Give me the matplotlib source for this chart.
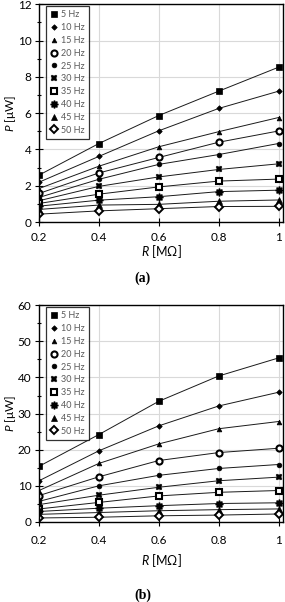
import matplotlib
matplotlib.use("Agg")
import matplotlib.pyplot as plt
from matplotlib.ticker import MultipleLocator

plt.rcParams['font.family'] = ['Lato', 'DejaVu Sans']
plt.rcParams['mathtext.fontset'] = 'custom'
plt.rcParams['mathtext.it'] = 'Lato:italic'
plt.rcParams['mathtext.rm'] = 'Lato'

R = [0.2, 0.4, 0.6, 0.8, 1.0]
labels = ["5 Hz", "10 Hz", "15 Hz", "20 Hz", "25 Hz", "30 Hz", "35 Hz", "40 Hz", "45 Hz", "50 Hz"]

P_a_5 = [2.59, 4.33, 5.87, 7.21, 8.53]
P_a_10 = [2.20, 3.62, 5.03, 6.26, 7.21]
P_a_15 = [1.85, 3.08, 4.15, 4.98, 5.76]
P_a_20 = [1.58, 2.71, 3.56, 4.40, 5.02]
P_a_25 = [1.36, 2.36, 3.18, 3.72, 4.33]
P_a_30 = [1.18, 1.97, 2.49, 2.90, 3.21]
P_a_35 = [1.03, 1.54, 1.94, 2.26, 2.37]
P_a_40 = [0.88, 1.21, 1.40, 1.68, 1.76]
P_a_45 = [0.70, 0.94, 0.98, 1.15, 1.22]
P_a_50 = [0.44, 0.62, 0.74, 0.86, 0.87]

P_b_5 = [15.4, 24.2, 33.4, 40.4, 45.4]
P_b_10 = [11.4, 19.7, 26.6, 32.1, 35.9]
P_b_15 = [8.7, 16.2, 21.6, 25.8, 27.8]
P_b_20 = [7.3, 12.5, 17.0, 19.2, 20.4]
P_b_25 = [5.7, 10.0, 12.9, 14.8, 15.9]
P_b_30 = [4.8, 7.4, 9.6, 11.4, 12.4]
P_b_35 = [3.6, 5.4, 7.2, 8.2, 8.7]
P_b_40 = [2.9, 3.8, 4.5, 5.1, 5.3]
P_b_45 = [2.1, 2.6, 3.1, 3.4, 3.6]
P_b_50 = [1.1, 1.3, 1.7, 1.9, 2.2]

series_a = [P_a_5, P_a_10, P_a_15, P_a_20, P_a_25, P_a_30, P_a_35, P_a_40, P_a_45, P_a_50]
series_b = [P_b_5, P_b_10, P_b_15, P_b_20, P_b_25, P_b_30, P_b_35, P_b_40, P_b_45, P_b_50]

# marker styles: (marker, size, facecolor, edgewidth)
styles = [
    ('s', 4.4, 'black', 0.5),
    ('D', 2.8, 'black', 0.5),
    ('^', 3.4, 'black', 0.5),
    ('o', 4.4, 'white', 1.5),
    ('o', 3.4, 'black', 0.5),
    ('X', 4.8, 'black', 0.3),
    ('s', 4.8, 'white', 1.5),
    ((8, 1, 0), 5.6, 'black', 1.0),
    ('^', 4.8, 'black', 0.5),
    ('D', 3.8, 'white', 1.4),
]

fig = plt.figure(figsize=(2.85, 6.02), dpi=100)

def make_axes(rect, series, ymax, ymajor, caption, caption_y, xlab_y, xpad):
    ax = fig.add_axes(rect)
    for vals, lab, (m, ms, fc, mew) in zip(series, labels, styles):
        ax.plot(R, vals, color='#1a1a1a', lw=0.7, marker=m, ms=ms,
                mfc=fc, mec='black', mew=mew, label=lab)
    ax.set_xlim(0.2, 1.015)
    ax.set_ylim(0, ymax)
    ax.yaxis.set_major_locator(MultipleLocator(ymajor))
    ax.yaxis.set_minor_locator(MultipleLocator(ymajor / 2))
    ax.set_xticks(R)
    ax.set_xticklabels(['0.2', '0.4', '0.6', '0.8', '1'])
    ax.grid(True, which='major', color='#d9d9d9', lw=0.8)
    ax.set_axisbelow(True)
    ax.tick_params(which='major', direction='inout', length=6, width=0.8,
                   labelsize=8.5, colors='black')
    ax.tick_params(axis='x', which='major', pad=xpad)
    ax.tick_params(axis='y', which='major', pad=2.5)
    ax.tick_params(which='minor', direction='inout', length=3.5, width=0.8)
    ax.tick_params(axis='x', which='minor', length=0)
    for s in ax.spines.values():
        s.set_linewidth(1.0)
        s.set_color('black')
    ax.set_xlabel(r'$\it{R}$ [MΩ]', fontsize=9)
    ax.set_ylabel(r'$\it{P}$ [μW]', fontsize=8.5)
    ax.xaxis.set_label_coords(0.5, xlab_y)
    ax.yaxis.set_label_coords(-0.088, 0.5)
    leg = ax.legend(loc='upper left', bbox_to_anchor=(0.03, 0.992),
                    fontsize=6.5, frameon=True, fancybox=False,
                    edgecolor='black', handlelength=0.8, handletextpad=0.3,
                    borderpad=0.5, labelspacing=0.42, borderaxespad=0.0,
                    labelcolor='#595959')
    leg.get_frame().set_linewidth(0.9)
    for h in leg.get_lines():
        h.set_linestyle('none')
    fig.text(0.5, caption_y, caption, ha='center', va='center',
             fontsize=10, fontweight='bold', family='Liberation Serif')
    return ax

make_axes([0.137, 0.631, 0.856, 0.362], series_a, 12, 2, '(a)', 1 - 278 / 602, -0.094, 4)
make_axes([0.137, 0.133, 0.856, 0.360], series_b, 60, 10, '(b)', 1 - 595 / 602, -0.14, 6.5)

fig.savefig('out.png', dpi=100)
